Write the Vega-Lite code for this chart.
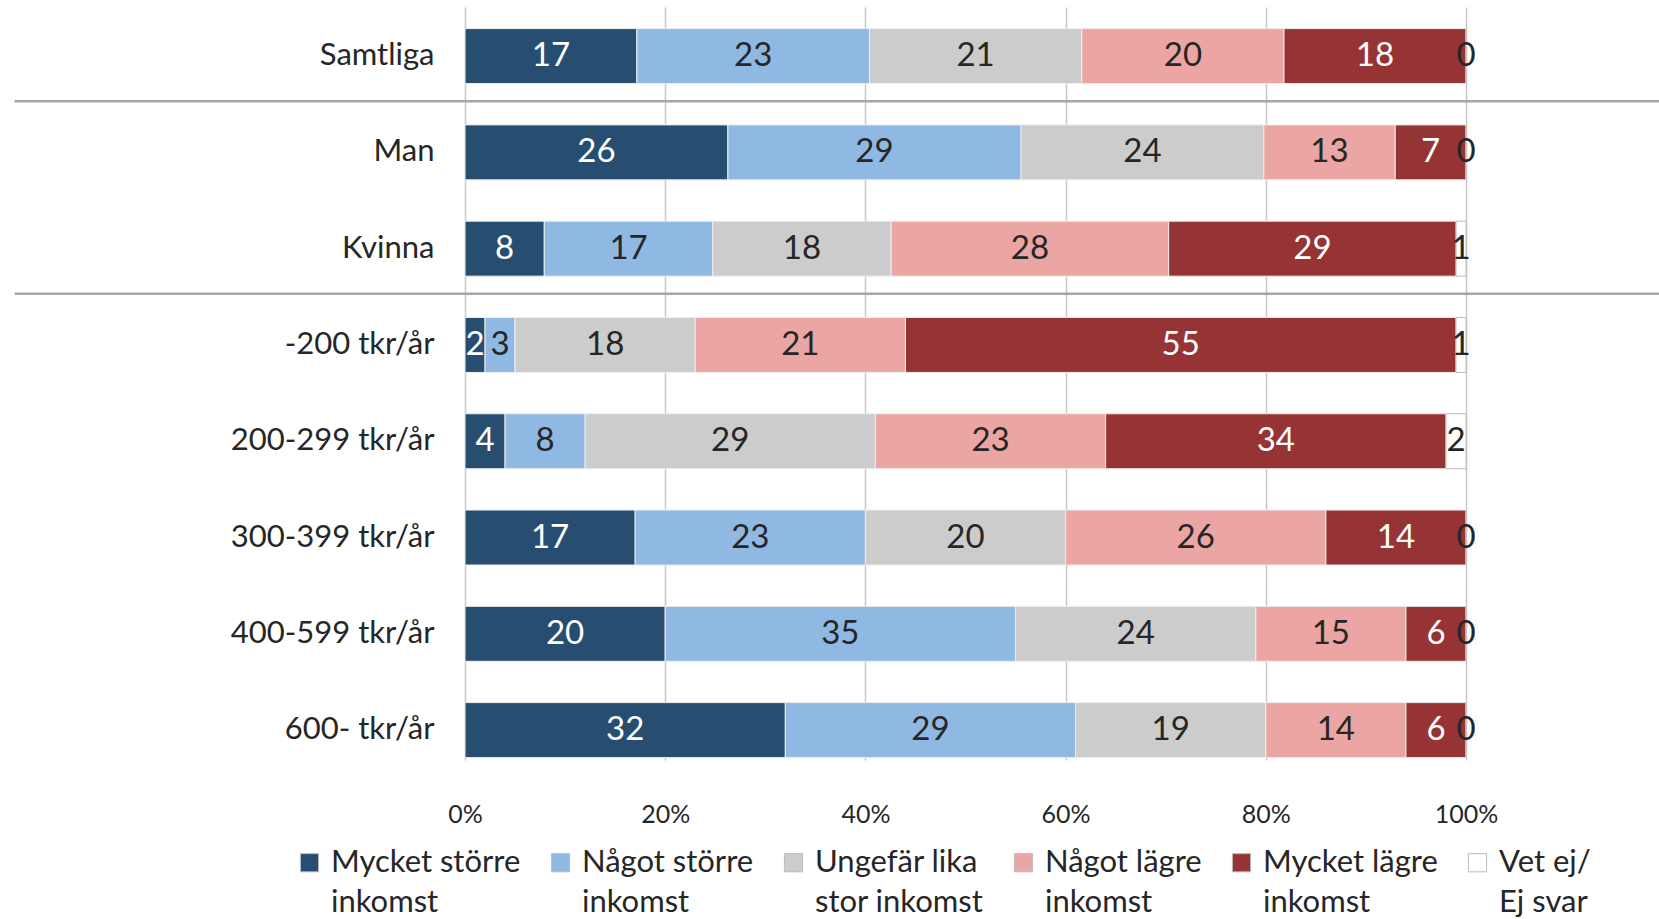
{
  "$schema": "https://vega.github.io/schema/vega-lite/v6.json",
  "autosize": "none",
  "width": 1001,
  "height": 753,
  "padding": {"left": 465, "top": 7, "right": 193, "bottom": 159},
  "background": "white",
  "config": {
    "font": "Lato",
    "view": {"stroke": null}
  },
  "data": {
    "values": [
      {"g": "Samtliga", "k": 1, "cat": "Mycket större inkomst", "v": 17},
      {"g": "Samtliga", "k": 2, "cat": "Något större inkomst", "v": 23},
      {"g": "Samtliga", "k": 3, "cat": "Ungefär lika stor inkomst", "v": 21},
      {"g": "Samtliga", "k": 4, "cat": "Något lägre inkomst", "v": 20},
      {"g": "Samtliga", "k": 5, "cat": "Mycket lägre inkomst", "v": 18},
      {"g": "Samtliga", "k": 6, "cat": "Vet ej/Ej svar", "v": 0},
      {"g": "Man", "k": 1, "cat": "Mycket större inkomst", "v": 26},
      {"g": "Man", "k": 2, "cat": "Något större inkomst", "v": 29},
      {"g": "Man", "k": 3, "cat": "Ungefär lika stor inkomst", "v": 24},
      {"g": "Man", "k": 4, "cat": "Något lägre inkomst", "v": 13},
      {"g": "Man", "k": 5, "cat": "Mycket lägre inkomst", "v": 7},
      {"g": "Man", "k": 6, "cat": "Vet ej/Ej svar", "v": 0},
      {"g": "Kvinna", "k": 1, "cat": "Mycket större inkomst", "v": 8},
      {"g": "Kvinna", "k": 2, "cat": "Något större inkomst", "v": 17},
      {"g": "Kvinna", "k": 3, "cat": "Ungefär lika stor inkomst", "v": 18},
      {"g": "Kvinna", "k": 4, "cat": "Något lägre inkomst", "v": 28},
      {"g": "Kvinna", "k": 5, "cat": "Mycket lägre inkomst", "v": 29},
      {"g": "Kvinna", "k": 6, "cat": "Vet ej/Ej svar", "v": 1},
      {"g": "-200 tkr/år", "k": 1, "cat": "Mycket större inkomst", "v": 2},
      {"g": "-200 tkr/år", "k": 2, "cat": "Något större inkomst", "v": 3},
      {"g": "-200 tkr/år", "k": 3, "cat": "Ungefär lika stor inkomst", "v": 18},
      {"g": "-200 tkr/år", "k": 4, "cat": "Något lägre inkomst", "v": 21},
      {"g": "-200 tkr/år", "k": 5, "cat": "Mycket lägre inkomst", "v": 55},
      {"g": "-200 tkr/år", "k": 6, "cat": "Vet ej/Ej svar", "v": 1},
      {"g": "200-299 tkr/år", "k": 1, "cat": "Mycket större inkomst", "v": 4},
      {"g": "200-299 tkr/år", "k": 2, "cat": "Något större inkomst", "v": 8},
      {"g": "200-299 tkr/år", "k": 3, "cat": "Ungefär lika stor inkomst", "v": 29},
      {"g": "200-299 tkr/år", "k": 4, "cat": "Något lägre inkomst", "v": 23},
      {"g": "200-299 tkr/år", "k": 5, "cat": "Mycket lägre inkomst", "v": 34},
      {"g": "200-299 tkr/år", "k": 6, "cat": "Vet ej/Ej svar", "v": 2},
      {"g": "300-399 tkr/år", "k": 1, "cat": "Mycket större inkomst", "v": 17},
      {"g": "300-399 tkr/år", "k": 2, "cat": "Något större inkomst", "v": 23},
      {"g": "300-399 tkr/år", "k": 3, "cat": "Ungefär lika stor inkomst", "v": 20},
      {"g": "300-399 tkr/år", "k": 4, "cat": "Något lägre inkomst", "v": 26},
      {"g": "300-399 tkr/år", "k": 5, "cat": "Mycket lägre inkomst", "v": 14},
      {"g": "300-399 tkr/år", "k": 6, "cat": "Vet ej/Ej svar", "v": 0},
      {"g": "400-599 tkr/år", "k": 1, "cat": "Mycket större inkomst", "v": 20},
      {"g": "400-599 tkr/år", "k": 2, "cat": "Något större inkomst", "v": 35},
      {"g": "400-599 tkr/år", "k": 3, "cat": "Ungefär lika stor inkomst", "v": 24},
      {"g": "400-599 tkr/år", "k": 4, "cat": "Något lägre inkomst", "v": 15},
      {"g": "400-599 tkr/år", "k": 5, "cat": "Mycket lägre inkomst", "v": 6},
      {"g": "400-599 tkr/år", "k": 6, "cat": "Vet ej/Ej svar", "v": 0},
      {"g": "600- tkr/år", "k": 1, "cat": "Mycket större inkomst", "v": 32},
      {"g": "600- tkr/år", "k": 2, "cat": "Något större inkomst", "v": 29},
      {"g": "600- tkr/år", "k": 3, "cat": "Ungefär lika stor inkomst", "v": 19},
      {"g": "600- tkr/år", "k": 4, "cat": "Något lägre inkomst", "v": 14},
      {"g": "600- tkr/år", "k": 5, "cat": "Mycket lägre inkomst", "v": 6},
      {"g": "600- tkr/år", "k": 6, "cat": "Vet ej/Ej svar", "v": 0}
    ]
  },
  "encoding": {
    "y": {
      "field": "g",
      "type": "nominal",
      "sort": ["Samtliga", "Man", "Kvinna", "-200 tkr/år", "200-299 tkr/år", "300-399 tkr/år", "400-599 tkr/år", "600- tkr/år"],
      "scale": {"paddingInner": 0.429, "paddingOuter": 0.1246, "align": 0.9},
      "axis": {
        "title": null,
        "ticks": false,
        "domain": false,
        "grid": false,
        "labelFontSize": 31,
        "labelColor": "#262626",
        "labelPadding": 31,
        "labelLimit": 420,
        "labelFont": "Lato"
      }
    }
  },
  "layer": [
    {
      "mark": {"type": "bar", "strokeWidth": 1},
      "encoding": {
        "x": {
          "field": "v",
          "type": "quantitative",
          "stack": "normalize",
          "scale": {"domain": [0, 1]},
          "axis": {
            "title": null,
            "format": ".0%",
            "values": [0, 0.2, 0.4, 0.6, 0.8, 1],
            "grid": true,
            "gridColor": "#c8c8c8",
            "gridWidth": 1.5,
            "domain": false,
            "ticks": false,
            "labelFlush": false,
            "labelFontSize": 25,
            "labelColor": "#262626",
            "labelPadding": 42,
            "labelFont": "Lato"
          }
        },
        "order": {"field": "k", "type": "quantitative"},
        "color": {
          "field": "cat",
          "type": "nominal",
          "sort": ["Mycket större inkomst", "Något större inkomst", "Ungefär lika stor inkomst", "Något lägre inkomst", "Mycket lägre inkomst", "Vet ej/Ej svar"],
          "scale": {
            "domain": ["Mycket större inkomst", "Något större inkomst", "Ungefär lika stor inkomst", "Något lägre inkomst", "Mycket lägre inkomst", "Vet ej/Ej svar"],
            "range": ["#274e70", "#8fb8e3", "#cccccc", "#eba6a4", "#963334", "#ffffff"]
          },
          "legend": {
            "title": null,
            "orient": "none",
            "legendX": -171,
            "legendY": 840,
            "direction": "horizontal",
            "columns": 6,
            "columnPadding": 24,
            "symbolType": "square",
            "symbolSize": 330,
            "symbolStrokeColor": "#bbbbbb",
            "symbolStrokeWidth": 1,
            "labelFontSize": 31,
            "labelFont": "Lato",
            "labelColor": "#262626",
            "labelOffset": 6,
            "labelLimit": 400,
            "labelExpr": "datum.label == 'Ungefär lika stor inkomst' ? ['Ungefär lika', 'stor inkomst'] : datum.label == 'Vet ej/Ej svar' ? ['Vet ej/', 'Ej svar'] : [replace(datum.label, ' inkomst', ''), 'inkomst']",
            "labelBaseline": "top",
            "encode": {
              "labels": {"update": {"lineHeight": {"value": 40}, "dy": {"value": -15}}}
            }
          }
        },
        "stroke": {
          "condition": {"test": "datum.k == 6", "value": "#bdbdbd"},
          "value": "#eeeeee"
        }
      }
    },
    {
      "mark": {"type": "text", "fontSize": 33, "baseline": "middle", "align": "center", "font": "Lato"},
      "encoding": {
        "x": {
          "field": "v",
          "type": "quantitative",
          "stack": "normalize",
          "bandPosition": 0.5,
          "scale": {"domain": [0, 1]}
        },
        "order": {"field": "k", "type": "quantitative"},
        "text": {"field": "v", "type": "quantitative"},
        "color": {
          "condition": {"test": "datum.k == 1 || datum.k == 5", "value": "#ffffff"},
          "value": "#262626"
        }
      }
    },
    {
      "data": {"values": [{"g": "Man"}, {"g": "-200 tkr/år"}]},
      "mark": {"type": "rule", "color": "#a6a6a6", "strokeWidth": 2.5},
      "encoding": {
        "y": {"field": "g", "type": "nominal", "bandPosition": -0.43},
        "x": {"datum": -0.45, "type": "quantitative"},
        "x2": {"datum": 1.2}
      }
    }
  ]
}
